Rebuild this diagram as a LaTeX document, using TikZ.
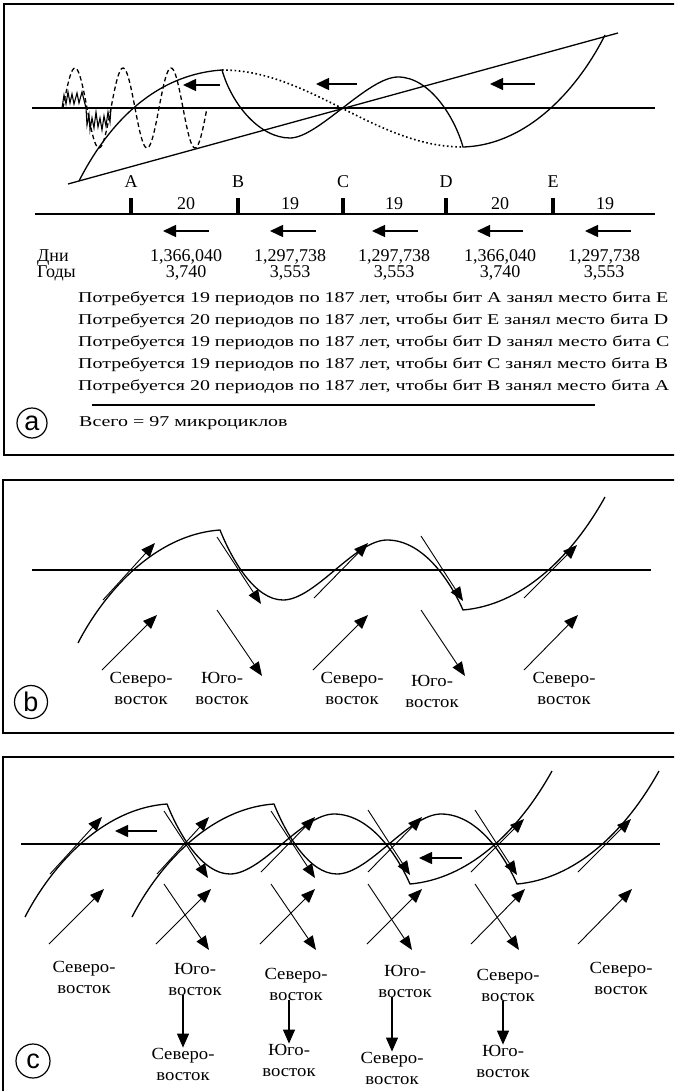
\documentclass[tikz,border=0pt]{standalone}
\usepackage{fontspec}
\setmainfont{Liberation Serif}
\newfontfamily\widefont[FakeStretch=1.33]{Liberation Serif}
\newfontfamily\labelfont[FakeStretch=1.1]{Liberation Serif}
\setsansfont{Liberation Sans}
\usetikzlibrary{arrows.meta}

% one wave of the wind, with its tangents and the wind arrows below it
\newcommand{\windwave}{%
  \draw[wave] (78,643) .. controls (100,600) and (150,535) .. (220,530)
    .. controls (232,560) and (255,600) .. (283,600)
    .. controls (315,600) and (355,540) .. (387,540)
    .. controls (425,540) and (452,585) .. (463,610)
    .. controls (520,605) and (570,560) .. (605,497);
  \foreach \xa/\ya/\xb/\yb in {103/600/155/543, 217/537/261/604, 314/598/368/543,
      421/536/463/601, 524/598/577/545, 102/670/157/615, 313/670/368/615,
      524/670/578/615, 217/610/262/676, 421/610/465/676}
    \draw[windarr] (\xa,\ya) -- (\xb,\yb);
}

\begin{document}
\begin{tikzpicture}[x=1pt, y=-1pt,
  frame/.style={line width=1.5pt},
  axis/.style={line width=1.1pt},
  wave/.style={line width=1.3pt},
  windarr/.style={line width=0.9pt, -{Triangle[length=14pt,width=11pt]}},
  leftarr/.style={line width=1.4pt, -{Triangle[length=13pt,width=12pt]}},
  downarr/.style={line width=1.1pt, -{Triangle[length=14pt,width=12pt]}},
  tickmark/.style={line width=3.2pt},
  panel/.style={circle, draw, line width=1.2pt, inner sep=0pt,
    font=\sffamily\fontsize{27}{27}\selectfont},
  letter/.style={font=\fontsize{18}{18}\selectfont},
  numtext/.style={align=center, font=\fontsize{18}{16}\selectfont, inner sep=0pt},
  sentence/.style={font=\widefont\fontsize{15}{15}\selectfont, inner sep=0pt},
  wind/.style={align=center, font=\labelfont\fontsize{17}{21}\selectfont, inner sep=0pt},
]
\useasboundingbox (0,0) rectangle (674,1091);
\clip (0,0) rectangle (674,1091);

%% panel a
\draw[frame] (4,4) rectangle (700,455);
\draw[axis] (32,108) -- (655,108);
\draw[wave] (68,184) -- (618,33);
\draw[wave] (79,181) .. controls (105,130) and (150,75) .. (222,70)
  .. controls (232,105) and (260,138) .. (290,138)
  .. controls (318,138) and (368,77) .. (398,77)
  .. controls (430,77) and (455,118) .. (463,147)
  .. controls (530,145) and (580,85) .. (605,35);
\draw[line width=1.6pt, dash pattern=on 1.6pt off 2.6pt]
  plot[domain=0:180, samples=40] ({222+1.3389*\x}, {108.5-38.5*cos(\x)});
\draw[wave, dash pattern=on 4.5pt off 3pt]
  plot[domain=0:1080, samples=120] ({63+\x/7.5}, {108-40*sin(\x)});
% noise
\draw[line width=1.1pt] (62,108) -- (64,95) -- (66,104) -- (68,92) -- (70,103) -- (72,94)
  -- (74,104) -- (77,93) -- (79,103) -- (82,92) -- (84,100) -- (86,108)
  -- (87,125) -- (89,115) -- (90,130) -- (92,118) -- (94,128) -- (96,112) -- (98,127)
  -- (100,118) -- (102,130) -- (104,116) -- (106,126) -- (108,112) -- (110,122) -- (111,108);
\draw[leftarr] (220,85) -- (183,85);
\draw[leftarr] (357,84) -- (316,84);
\draw[leftarr] (535,84) -- (490,84);

\draw[axis] (35,214) -- (655,214);
\foreach \n/\x in {A/131,B/238,C/343,D/446,E/553} {
  \node[letter] (\n) at (\x,182) {\n};
  \draw[tickmark] (\x,198) -- (\x,214);
}
\foreach \x/\n [count=\i] in {186/20,290/19,394/19,500/20,605/19}
  \node[letter] (n\i) at (\x,204) {\n};
\foreach \x in {163,270,372,477,585}
  \draw[leftarr] (\x+46,231) -- (\x,231);

\node[numtext, align=left, anchor=west] (units) at (37,265) {Дни\\Годы};
\node[numtext] (col1) at (186,265) {1,366,040\\3,740};
\node[numtext] (col2) at (290,265) {1,297,738\\3,553};
\node[numtext] (col3) at (394,265) {1,297,738\\3,553};
\node[numtext] (col4) at (500,265) {1,366,040\\3,740};
\node[numtext] (col5) at (604,265) {1,297,738\\3,553};

\foreach \n/\p/\q [count=\i from 0] in {19/A/E,20/E/D,19/D/C,19/C/B,20/B/A}
  \node[sentence, anchor=base west] (s\i) at (78,302+22*\i)
    {Потребуется \n\ периодов по 187 лет, чтобы бит \p\ занял место бита \q};
\draw[line width=1.7pt] (92,405) -- (595,405);
\node[sentence, anchor=base west] (total) at (79,426) {Всего = 97 микроциклов};
\node[panel, minimum size=30pt] (pa) at (32,423) {a};

%% panel b
\draw[frame] (3,480) rectangle (700,733);
\draw[axis] (32,570) -- (651,570);
\windwave
\node[wind] (b1) at (141,688) {Северо-\\восток};
\node[wind] (b2) at (222,688) {Юго-\\восток};
\node[wind] (b3) at (352,688) {Северо-\\восток};
\node[wind] (b4) at (432,691) {Юго-\\восток};
\node[wind] (b5) at (564,688) {Северо-\\восток};
\node[panel, minimum size=33pt] (pb) at (31,702) {b};

%% panel c
\draw[frame] (3,757) rectangle (700,1110);
\draw[axis] (21,844) -- (660,844);
\begin{scope}[shift={(-53,274)}]
  \windwave
\end{scope}
\begin{scope}[shift={(54,274)}]
  \windwave
\end{scope}
\draw[leftarr] (157,831) -- (115,831);
\draw[leftarr] (462,858) -- (419,858);

\node[wind] (c1) at (84,977) {Северо-\\восток};
\node[wind] (c2) at (195,979) {Юго-\\восток};
\node[wind] (c3) at (296,984) {Северо-\\восток};
\node[wind] (c4) at (405,981) {Юго-\\восток};
\node[wind] (c5) at (508,985) {Северо-\\восток};
\node[wind] (c6) at (621,978) {Северо-\\восток};
\node[wind] (d1) at (183,1064) {Северо-\\восток};
\node[wind] (d2) at (289,1060) {Юго-\\восток};
\node[wind] (d3) at (392,1068) {Северо-\\восток};
\node[wind] (d4) at (503,1061) {Юго-\\восток};
\draw[downarr] (d1.north |- c2.south) -- (d1.north);
\draw[downarr] (d2.north |- c3.south) -- (d2.north);
\draw[downarr] (d3.north |- c4.south) -- (d3.north);
\draw[downarr] (d4.north |- c5.south) -- (d4.north);
\node[panel, minimum size=34pt] (pc) at (33,1061) {c};
\end{tikzpicture}
\end{document}
